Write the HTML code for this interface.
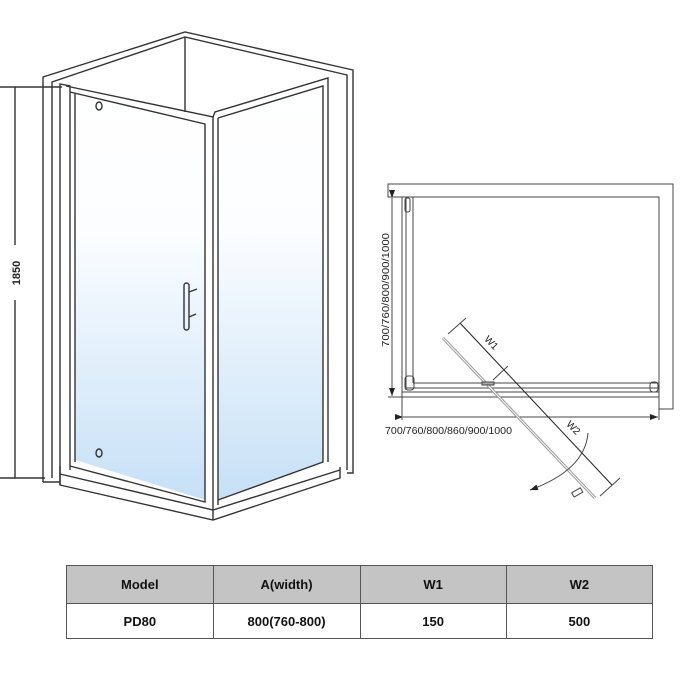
<!DOCTYPE html>
<html><head><meta charset="utf-8"><style>
body{margin:0;background:#fff;width:700px;height:700px;overflow:hidden;font-family:"Liberation Sans",Arial,sans-serif}
svg{position:absolute;left:0;top:0}
table{position:absolute;left:66px;top:565px;border-collapse:collapse;width:587px;font-weight:bold;font-size:13px;color:#111}
td{border:1.5px solid #555;text-align:center;width:146px}
tr.h td{background:#c4c4c4;height:35px}
tr.b td{background:#fff;height:32px}
</style></head><body>
<svg width="700" height="700" viewBox="0 0 700 700">
<defs><linearGradient id="g" x1="0" y1="0" x2="0" y2="1"><stop offset="0" stop-color="#fff"/><stop offset="0.35" stop-color="#fbfdff"/><stop offset="1" stop-color="#c6e0f6"/></linearGradient>
<marker id="ar" markerWidth="10" markerHeight="10" refX="8" refY="5" orient="auto" markerUnits="userSpaceOnUse"><path d="M0,2 L8,5 L0,8z" fill="#222"/></marker></defs>
<g fill="none" stroke="#333" stroke-width="1.4">
<polyline points="43,482 43,77 185,32 353,70 353,473 347,473"/>
<polyline points="52,478 52,82 185,37 347,75 347,470"/>
<line x1="185" y1="37" x2="185" y2="112"/>
<line x1="43" y1="482" x2="60" y2="482"/>
<polygon points="75,93 205,124 205,500 75,460" fill="url(#g)" stroke="none"/>
<polygon points="218,118 323,86 323,462 218,500" fill="url(#g)" stroke="none"/>
<polyline points="60,485 60,84 70,86 70,470"/>
<polyline points="66,86 213,117 213,510"/>
<polyline points="70,92 205,124 205,502 70,466"/>
<line x1="75" y1="93" x2="75" y2="462"/>
<polyline points="213,117 215,112 328,78 328,462"/>
<polyline points="218,118 323,86 323,462 218,500"/>
<line x1="218" y1="118" x2="218" y2="505"/>
<polyline points="60,466 60,485 213,520 340,478 340,467"/>
<polyline points="60,474 213,510 340,470"/>
<line x1="213" y1="510" x2="213" y2="520"/>
<rect x="184" y="283" width="5" height="47" rx="2.5"/>
<line x1="189" y1="292" x2="197" y2="289"/><line x1="189" y1="317" x2="196" y2="314"/>
<ellipse cx="99" cy="106" rx="3" ry="4"/><ellipse cx="99" cy="453" rx="3" ry="4"/>
<line x1="0" y1="87" x2="62" y2="87"/><line x1="0" y1="478" x2="45" y2="478"/>
<line x1="15" y1="87" x2="15" y2="245"/><line x1="15" y1="300" x2="15" y2="478"/>
</g>
<text x="0" y="0" transform="translate(20,273) rotate(-90)" font-size="11" font-weight="bold" text-anchor="middle" fill="#222">1850</text>
<g fill="none" stroke="#444" stroke-width="1">
<polyline points="659,409 673,409 673,184 388,184 388,197 659,197 659,397"/>
<line x1="402" y1="197" x2="402" y2="397"/><line x1="406" y1="197" x2="406" y2="390"/><line x1="413" y1="197" x2="413" y2="383"/>
<line x1="413" y1="383" x2="659" y2="383"/><line x1="406" y1="388" x2="659" y2="388"/><line x1="402" y1="392" x2="659" y2="392"/><line x1="388" y1="397" x2="659" y2="397"/>
<rect x="405" y="198" width="5" height="14" rx="2"/><rect x="405" y="376" width="9" height="14" rx="3"/><rect x="650" y="382" width="8" height="10" rx="3"/>
<line x1="392" y1="198" x2="392" y2="396" marker-start="url(#ar)" marker-end="url(#ar)"/>
<line x1="402" y1="397" x2="402" y2="420"/><line x1="659" y1="397" x2="659" y2="420"/>
<line x1="403" y1="417" x2="658" y2="417" marker-start="url(#ar)" marker-end="url(#ar)"/>
<line x1="443" y1="338" x2="595" y2="498" stroke="#999" stroke-width="3"/>
<line x1="443" y1="338" x2="595" y2="498" stroke="#fff" stroke-width="1"/>
<rect x="482" y="382" width="12" height="3" fill="#aaa"/>
<line x1="460" y1="323" x2="612" y2="485" stroke="#222"/>
<line x1="448" y1="334" x2="466" y2="318"/><line x1="600" y1="496" x2="620" y2="478"/>
<line x1="493" y1="380" x2="508" y2="366"/>
<path d="M588,433 Q585,470 530,490" marker-end="url(#ar)"/>
<rect x="572" y="490" width="10" height="5" transform="rotate(-30 577 492)"/>
</g>
<text transform="translate(389,290) rotate(-90)" font-size="10" text-anchor="middle" fill="#222" textLength="114" lengthAdjust="spacingAndGlyphs">700/760/800/900/1000</text>
<text x="385" y="434" font-size="10" fill="#222" textLength="127" lengthAdjust="spacingAndGlyphs">700/760/800/860/900/1000</text>
<text transform="translate(489,345) rotate(45)" font-size="10" fill="#222" text-anchor="middle">W1</text>
<text transform="translate(571,430) rotate(45)" font-size="10" fill="#222" text-anchor="middle">W2</text>
</svg>
<table><tr class="h"><td>Model</td><td>A(width)</td><td>W1</td><td>W2</td></tr>
<tr class="b"><td>PD80</td><td>800(760-800)</td><td>150</td><td>500</td></tr></table>
</body></html>
